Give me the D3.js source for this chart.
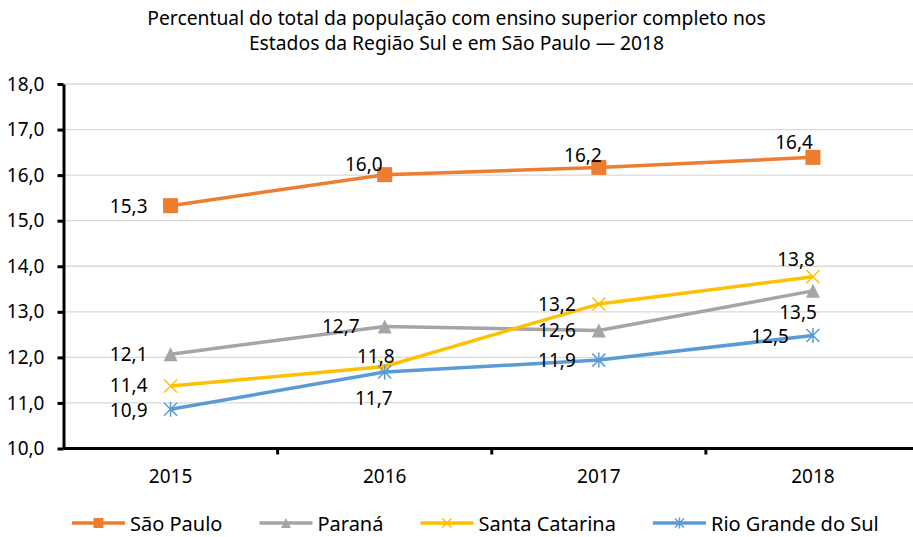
<!DOCTYPE html>
<html>
<head>
<meta charset="utf-8">
<script src="https://cdn.jsdelivr.net/npm/d3@7"></script>
<style>
  body { margin: 0; background: #fff; }
  text { font-family: "Noto Sans", sans-serif; fill: #000; }
</style>
</head>
<body>
<svg id="chart"></svg>
<script>
// data
const years = ["2015", "2016", "2017", "2018"];
const saoPaulo = [15.33, 16.01, 16.17, 16.39];
const parana = [12.07, 12.68, 12.59, 13.46];
const santaCatarina = [11.37, 11.80, 13.17, 13.77];
const rioGrandeDoSul = [10.86, 11.68, 11.94, 12.48];
const seriesNames = ["São Paulo", "Paraná", "Santa Catarina", "Rio Grande do Sul"];
const yTicks = [10, 11, 12, 13, 14, 15, 16, 17, 18];
const titleLines = [
    "Percentual do total da população com ensino superior completo nos",
    "Estados da Região Sul e em São Paulo — 2018"
];

const width = 913;
const height = 537;
const margin = ({ top: 84, right: -7, bottom: 88.5, left: 63.5 });

const colors = ["#ED7D31", "#A5A5A5", "#FFC000", "#5B9BD5"];
const markers = ["square", "triangle", "cross", "star"];

// label offsets: [dx of text end, dy of text centre] from the point
const labelPos = [
    [[-23, 0], [-2, -11], [3, -12], [0, -15]],
    [[-23, 0], [-25, 0], [-23, 0], [4, 21]],
    [[-23, -1], [10, -10], [-23, 0], [2, -18]],
    [[-23, 1], [8, 26], [-23, 0], [-24, 0]]
];

const series = [saoPaulo, parana, santaCatarina, rioGrandeDoSul].map((values, i) => ({
    name: seriesNames[i],
    color: colors[i],
    marker: markers[i],
    values: values.map((v, j) => ({ year: years[j], value: v }))
}));

const svg = d3.select("#chart")
    .attr("width", width)
    .attr("height", height)
    .attr("viewBox", [0, 0, width, height]);

const x = d3.scaleBand()
    .domain(years)
    .range([margin.left, width - margin.right]);

const y = d3.scaleLinear()
    .domain([10, 18])
    .range([height - margin.bottom, margin.top]);

const fmt = v => d3.format(".1f")(v).replace(".", ",");

// title
svg.append("g")
    .selectAll("text")
    .data(titleLines)
    .join("text")
    .attr("x", width / 2)
    .attr("y", (d, i) => 17 + i * 25)
    .attr("text-anchor", "middle")
    .attr("dominant-baseline", "central")
    .style("font-size", "19.3px")
    .text(d => d);

// gridlines
svg.append("g")
    .selectAll("line")
    .data(yTicks.slice(1))
    .join("line")
    .attr("x1", margin.left)
    .attr("x2", width - margin.right)
    .attr("y1", d => y(d))
    .attr("y2", d => y(d))
    .attr("stroke", "#d9d9d9")
    .attr("stroke-width", 1.3);

// y axis
const gy = svg.append("g")
    .attr("transform", `translate(${margin.left},0)`)
    .call(d3.axisLeft(y).tickValues(yTicks).tickSize(6).tickPadding(13).tickFormat(fmt).tickSizeOuter(0));
gy.select(".domain").attr("stroke", "#000").attr("stroke-width", 3);
gy.selectAll(".tick line").attr("stroke", "#000").attr("stroke-width", 3);
gy.selectAll(".tick text").style("font-size", "19px").attr("fill", "#000");

// x axis, ticks between categories
const gx = svg.append("g")
    .attr("transform", `translate(0,${y(10)})`);
gx.append("line")
    .attr("x1", margin.left)
    .attr("x2", width - margin.right)
    .attr("stroke", "#000")
    .attr("stroke-width", 3);
gx.selectAll(".sep")
    .data(years.slice(1))
    .join("line")
    .attr("class", "sep")
    .attr("x1", d => x(d))
    .attr("x2", d => x(d))
    .attr("y1", 0)
    .attr("y2", 6)
    .attr("stroke", "#000")
    .attr("stroke-width", 3);
gx.selectAll(".lbl")
    .data(years)
    .join("text")
    .attr("class", "lbl")
    .attr("x", d => x(d) + x.bandwidth() / 2)
    .attr("y", 27)
    .attr("text-anchor", "middle")
    .attr("dominant-baseline", "central")
    .style("font-size", "19px")
    .text(d => d);

function markerPath(type, s) {
    const h = s / 2;
    if (type === "square") return `M${-h},${-h}h${s}v${s}h${-s}Z`;
    if (type === "triangle") return `M0,${-h}L${h},${h}L${-h},${h}Z`;
    if (type === "cross") return `M${-h},${-h}L${h},${h}M${h},${-h}L${-h},${h}`;
    return `M${-h},${-h}L${h},${h}M${h},${-h}L${-h},${h}M0,${-h - 1}V${h + 1}`;
}

function drawMarker(g, type, color, s) {
    const filled = type === "square" || type === "triangle";
    g.append("path")
        .attr("d", markerPath(type, s))
        .attr("fill", filled ? color : "none")
        .attr("stroke", color)
        .attr("stroke-width", filled ? 0 : 1.5);
}

const line = d3.line()
    .x(d => x(d.year) + x.bandwidth() / 2)
    .y(d => y(d.value));

const gs = svg.append("g")
    .selectAll("g")
    .data(series)
    .join("g");

gs.append("path")
    .attr("d", d => line(d.values))
    .attr("fill", "none")
    .attr("stroke", d => d.color)
    .attr("stroke-width", 3.5)
    .attr("stroke-linejoin", "round");

gs.each(function (s) {
    const g = d3.select(this);
    s.values.forEach(d => {
        const m = g.append("g")
            .attr("transform", `translate(${x(d.year) + x.bandwidth() / 2},${y(d.value)})`);
        drawMarker(m, s.marker, s.color, s.marker === "square" ? 15 : s.marker === "triangle" ? 14 : 13);
    });
});

// data labels
gs.each(function (s, i) {
    d3.select(this).selectAll(".dl")
        .data(s.values)
        .join("text")
        .attr("class", "dl")
        .attr("x", (d, j) => x(d.year) + x.bandwidth() / 2 + labelPos[i][j][0])
        .attr("y", (d, j) => y(d.value) + labelPos[i][j][1])
        .attr("text-anchor", "end")
        .attr("dominant-baseline", "central")
        .style("font-size", "19px")
        .text(d => fmt(d.value));
});

// legend
const legend = svg.append("g")
    .attr("transform", `translate(72,523)`);
let lx = 0;
series.forEach(s => {
    const item = legend.append("g").attr("transform", `translate(${lx},0)`);
    item.append("line")
        .attr("x1", 0)
        .attr("x2", 53)
        .attr("stroke", s.color)
        .attr("stroke-width", 3.5);
    const m = item.append("g").attr("transform", "translate(26.5,0)");
    drawMarker(m, s.marker, s.color, s.marker === "cross" || s.marker === "star" ? 9 : 10);
    const t = item.append("text")
        .attr("x", 58)
        .attr("dominant-baseline", "central")
        .style("font-size", "20px")
        .text(s.name);
    lx += 58 + t.node().getComputedTextLength() + 37;
});
</script>
</body>
</html>
